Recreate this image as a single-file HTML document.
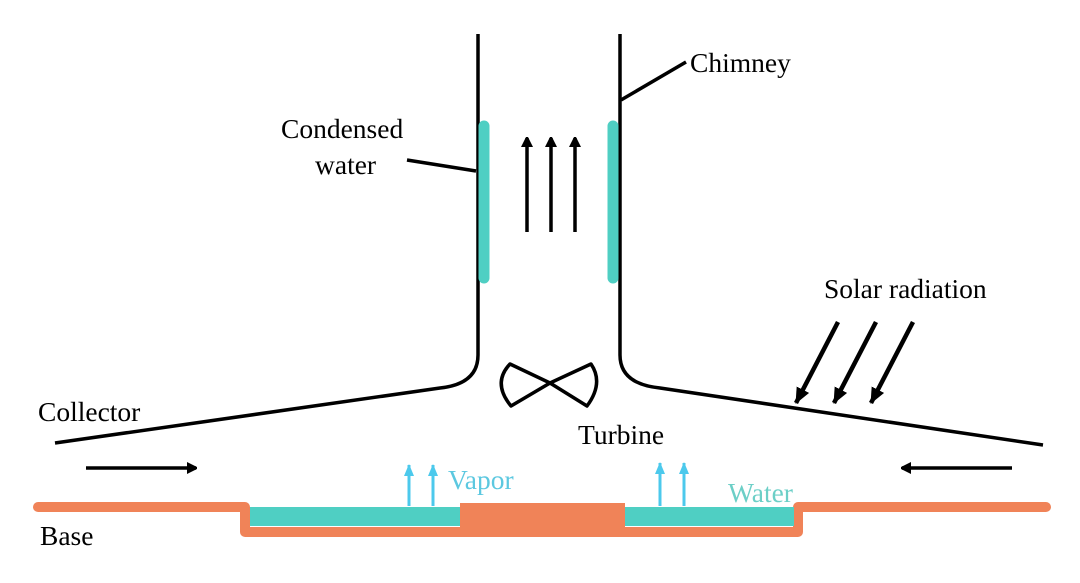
<!DOCTYPE html>
<html><head><style>
body{margin:0;background:#fff;}
svg{display:block;}
text{font-family:"Liberation Serif",serif;font-size:27.5px;}
</style></head><body>
<svg width="1080" height="583" viewBox="0 0 1080 583">
<defs>
<marker id="ab" markerWidth="10" markerHeight="14" refX="9" refY="6" orient="auto" markerUnits="userSpaceOnUse"><path d="M0,0 L12,6 L0,12 Z" fill="#000"/></marker>
<marker id="ab2" markerWidth="16" markerHeight="14" refX="15" refY="7" orient="auto" markerUnits="userSpaceOnUse"><path d="M0,0 L16,7 L0,14 Z" fill="#000"/></marker>
<marker id="ac" markerWidth="12" markerHeight="12" refX="11" refY="5" orient="auto" markerUnits="userSpaceOnUse"><path d="M0,0 L12,5 L0,10 Z" fill="#4cc9ec"/></marker>
</defs>
<!-- base -->
<path d="M38,507 H245 V532 H798 V507 H1046" fill="none" stroke="#f08358" stroke-width="10" stroke-linecap="round" stroke-linejoin="round"/>
<rect x="250" y="507" width="212" height="19" fill="#4fcfc3"/>
<rect x="625" y="507" width="169" height="19" fill="#4fcfc3"/>
<rect x="460" y="503" width="165" height="30" fill="#f08358"/>
<!-- chimney -->
<path d="M478,34 V355 Q478,384 440,388 L55,443" fill="none" stroke="#000" stroke-width="3.5"/>
<path d="M620,34 V355 Q620,384 660,388 L1043,445" fill="none" stroke="#000" stroke-width="3.5"/>
<line x1="484" y1="126" x2="484" y2="278" stroke="#4fcfc3" stroke-width="11" stroke-linecap="round"/>
<line x1="613" y1="126" x2="613" y2="278" stroke="#4fcfc3" stroke-width="11" stroke-linecap="round"/>
<g stroke="#000" stroke-width="3.5">
<line x1="527" y1="232" x2="527" y2="138" marker-end="url(#ab)"/>
<line x1="551" y1="232" x2="551" y2="138" marker-end="url(#ab)"/>
<line x1="575" y1="232" x2="575" y2="138" marker-end="url(#ab)"/>
<line x1="407" y1="160" x2="476" y2="171"/>
<line x1="621" y1="100" x2="686" y2="62"/>
<line x1="86" y1="468" x2="196" y2="468" marker-end="url(#ab)"/>
<line x1="1012" y1="468" x2="902" y2="468" marker-end="url(#ab)"/>
</g>
<g stroke="#000" stroke-width="4.5">
<line x1="838" y1="322" x2="796" y2="403" marker-end="url(#ab2)"/>
<line x1="876" y1="322" x2="834" y2="403" marker-end="url(#ab2)"/>
<line x1="913" y1="322" x2="871" y2="403" marker-end="url(#ab2)"/>
</g>
<!-- turbine -->
<path d="M550,383 L510,364 Q492,383 511,406 Z M550,383 L591,364 Q604,383 587,406 Z" fill="none" stroke="#000" stroke-width="3.5" stroke-linejoin="round"/>
<!-- vapor arrows -->
<g stroke="#4cc9ec" stroke-width="3">
<line x1="409" y1="506" x2="409" y2="465" marker-end="url(#ac)"/>
<line x1="433" y1="506" x2="433" y2="465" marker-end="url(#ac)"/>
<line x1="660" y1="506" x2="660" y2="463" marker-end="url(#ac)"/>
<line x1="684" y1="506" x2="684" y2="463" marker-end="url(#ac)"/>
</g>
<text x="690" y="72">Chimney</text>
<text x="281" y="138">Condensed</text>
<text x="315" y="174">water</text>
<text x="824" y="298">Solar radiation</text>
<text x="38" y="421">Collector</text>
<text x="578" y="444">Turbine</text>
<text x="448" y="489" fill="#5cc8e0">Vapor</text>
<text x="728" y="502" fill="#6ccfc7">Water</text>
<text x="40" y="545">Base</text>
</svg>
</body></html>
